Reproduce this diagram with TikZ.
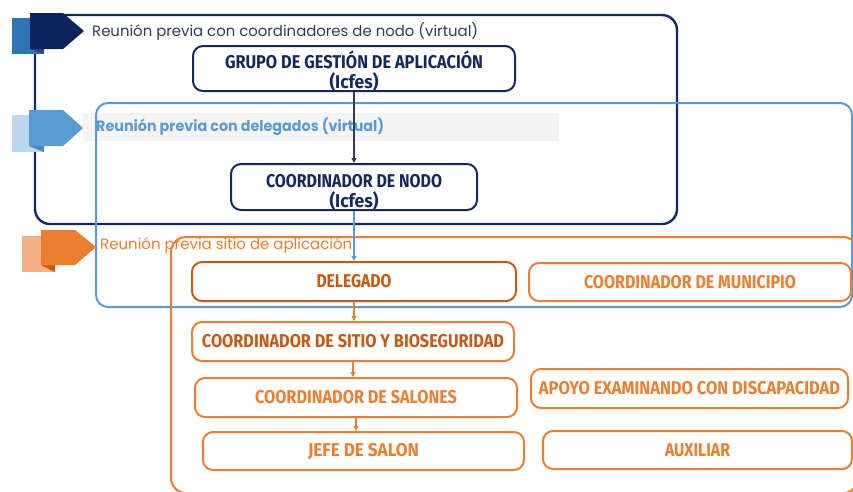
\documentclass[tikz,border=0pt]{standalone}
\usepackage{fontspec}
\usepackage{graphicx}
\setmainfont{Poppins}
\newfontfamily\cfont{Fira Sans}
\usetikzlibrary{arrows.meta}
\definecolor{navy}{HTML}{14295C}
\definecolor{navytag}{HTML}{0E2260}
\definecolor{midblue}{HTML}{2E75B6}
\definecolor{foldblue}{HTML}{1F4E79}
\definecolor{lblue}{HTML}{5B9BD5}
\definecolor{llblue}{HTML}{BDD7EE}
\definecolor{fold2}{HTML}{4A86C0}
\definecolor{orng}{HTML}{ED7D31}
\definecolor{dorng}{HTML}{C55A11}
\definecolor{lorng}{HTML}{F4B183}
\definecolor{band}{HTML}{F4F4F4}
\definecolor{ttl}{HTML}{2F3B52}
\newcommand{\ctext}[2]{\resizebox{#1}{\height}{\cfont\bfseries\fontsize{18.5}{20}\selectfont #2}}
\newcommand{\ttext}[2]{\resizebox{#1}{\height}{\fontsize{15}{18}\selectfont #2}}
\tikzset{
  nbox/.style={draw=navy, line width=2pt, rounded corners=10pt, text=navy, align=center, inner sep=0pt,
    font=\fontsize{18}{20}\selectfont, text height=40pt, text depth=0pt},
  obox/.style={draw=orng, line width=2pt, rounded corners=10pt, text=orng, align=center, inner sep=0pt},
  dbox/.style={draw=dorng, line width=2pt, rounded corners=10pt, text=dorng, align=center, inner sep=0pt},
  ttlnode/.style={anchor=west, inner sep=0pt},
  narr/.style={draw=ttl, line width=1.1pt, -{Triangle[length=5pt,width=5pt]}},
  barr/.style={draw=lblue, line width=1.4pt, -{Triangle[length=5pt,width=5pt]}},
  oarr/.style={draw=orng, line width=1.4pt, -{Triangle[length=5pt,width=5pt]}},
}
\begin{document}
\begin{tikzpicture}[x=1pt,y=1pt]
\useasboundingbox (0,0) rectangle (853,-491);
% frames
\draw[navy, line width=2.4pt, rounded corners=15pt] (35,-15) rectangle (677,-224);
\fill[band] (83,-113) rectangle (559,-141);
\draw[lblue, line width=2pt, rounded corners=12pt] (96,-103) rectangle (852,-307);
\draw[orng, line width=2pt, rounded corners=15pt] (171,-237) rectangle (858,-493);
% tag 1
\fill[midblue] (12,-18) rectangle (44,-54);
\fill[foldblue] (30,-49) -- (44,-49) -- (44,-54) -- cycle;
\fill[navytag] (30,-13) -- (63,-13) -- (84,-31) -- (63,-49) -- (30,-49) -- cycle;
% tag 2
\fill[llblue] (12,-115) rectangle (44,-152);
\fill[fold2] (29,-146) -- (44,-146) -- (44,-152) -- cycle;
\fill[lblue] (29,-110) -- (63,-110) -- (83,-128) -- (63,-146) -- (29,-146) -- cycle;
% tag 3
\fill[lorng] (22,-236) rectangle (55,-272);
\fill[dorng] (41,-265) -- (55,-265) -- (55,-272) -- cycle;
\fill[orng] (41,-230) -- (75,-230) -- (96,-247) -- (75,-265) -- (41,-265) -- cycle;
% titles
\node[ttlnode, text=ttl] (t1) at (92,-31) {\ttext{386pt}{Reunión previa con coordinadores de nodo (virtual)}};
\node[ttlnode, text=lblue] (t2) at (96,-127) {\ttext{288pt}{\bfseries Reunión previa con delegados (virtual)}};
\node[ttlnode, text=orng] (t3) at (100,-246) {\ttext{252pt}{Reunión previa sitio de aplicación}};
% boxes
\node[nbox, minimum width=322pt, minimum height=45pt] (gga) at (354,-68.5)
  {\ctext{258pt}{GRUPO DE GESTIÓN DE APLICACIÓN}\\\ctext{49pt}{(Icfes)}};
\node[nbox, minimum width=246pt, minimum height=46pt] (cn) at (354,-187)
  {\ctext{176pt}{COORDINADOR DE NODO}\\\ctext{49pt}{(Icfes)}};
\node[dbox, minimum width=324pt, minimum height=39pt] (del) at (354,-281.5) {\ctext{75pt}{DELEGADO}};
\node[obox, minimum width=322pt, minimum height=38pt] (cm) at (690,-282) {\ctext{212pt}{COORDINADOR DE MUNICIPIO}};
\node[obox, text=dorng, minimum width=322pt, minimum height=39pt] (csb) at (353,-341.5) {\ctext{302pt}{COORDINADOR DE SITIO Y BIOSEGURIDAD}};
\node[obox, minimum width=322pt, minimum height=39pt] (cs) at (356,-397.5) {\ctext{202pt}{COORDINADOR DE SALONES}};
\node[obox, minimum width=321pt, minimum height=38pt] (js) at (363.5,-451) {\ctext{111pt}{JEFE DE SALON}};
\node[obox, minimum width=317pt, minimum height=39pt] (ap) at (689.5,-388.5) {\ctext{301pt}{APOYO EXAMINANDO CON DISCAPACIDAD}};
\node[obox, minimum width=309pt, minimum height=38pt] (aux) at (697.5,-450) {\ctext{65pt}{AUXILIAR}};
% arrows
\draw[narr] (gga.south) -- (gga.south |- cn.north);
\draw[barr] (cn.south) -- (cn.south |- del.north);
\draw[oarr] (del.south) -- (del.south |- csb.north);
\draw[oarr] (csb.south) -- (csb.south |- cs.north);
\draw[oarr] (cs.south) -- (cs.south |- js.north);
\end{tikzpicture}
\end{document}
